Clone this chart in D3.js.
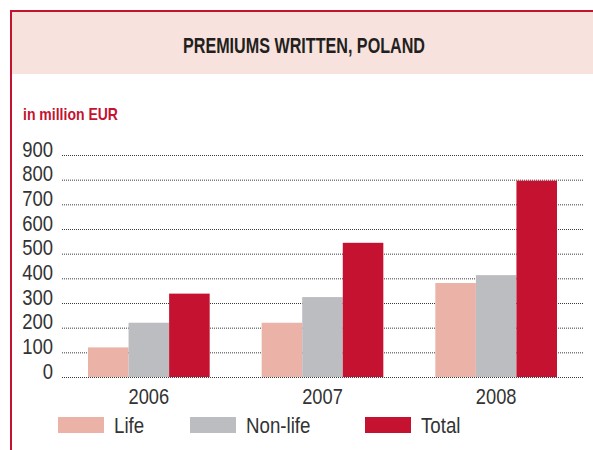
<!DOCTYPE html>
<meta charset="utf-8">
<style>
  body { margin: 0; background: #fff; }
  svg text { font-family: "Liberation Sans", Arial, sans-serif; }
</style>
<svg width="593" height="450"></svg>
<script src="https://d3js.org/d3.v7.min.js"></script>
<script>

var years = ["2006", "2007", "2008"],
    series = ["Life", "Non-life", "Total"],
    life = [120, 220, 381],
    nonLife = [220, 324, 413],
    total = [338, 544, 796],
    yTicks = [0, 100, 200, 300, 400, 500, 600, 700, 800, 900];

var colors = ["#ebb3a8", "#bcbdc1", "#c41230"];
var values = [life, nonLife, total];
var legendX = [58, 190, 365];

var svg = d3.select("svg");

// squeeze text horizontally to mimic the condensed face
function condense(sel, f) {
  sel.each(function() {
    var len = this.getComputedTextLength();
    d3.select(this).attr("textLength", len * f).attr("lengthAdjust", "spacingAndGlyphs");
  });
}

// frame + header band
svg.append("rect")
    .attr("x", 12).attr("y", 12).attr("width", 600).attr("height", 62)
    .attr("fill", "#f8e2dd");
svg.append("path")
    .attr("d", "M11,460V11H600")
    .attr("fill", "none")
    .attr("stroke", "#c41230")
    .attr("stroke-width", 2);

svg.append("text")
    .attr("x", 304).attr("y", 53)
    .attr("text-anchor", "middle")
    .attr("font-size", 22)
    .attr("font-weight", "bold")
    .attr("fill", "#231f20")
    .attr("textLength", 242)
    .attr("lengthAdjust", "spacingAndGlyphs")
    .text("PREMIUMS WRITTEN, POLAND");

svg.append("text")
    .attr("x", 23).attr("y", 120)
    .attr("font-size", 17)
    .attr("font-weight", "bold")
    .attr("fill", "#c41230")
    .attr("textLength", 95)
    .attr("lengthAdjust", "spacingAndGlyphs")
    .text("in million EUR");

var x0 = d3.scaleBand().domain(years).range([62, 583]);
var x1 = d3.scaleBand().domain(series).range([26, x0.bandwidth() - 26]);
var y = d3.scaleLinear().domain([0, 900]).range([377, 155]);

// y axis with dotted gridlines
var yAxis = svg.append("g")
    .attr("transform", "translate(62,0)")
    .call(d3.axisLeft(y).tickValues(yTicks).tickSize(-521).tickPadding(9));
yAxis.select(".domain").remove();
yAxis.selectAll("line")
    .attr("stroke", "#3a3a3a")
    .attr("stroke-dasharray", "1,1");
yAxis.selectAll("text")
    .attr("dy", "0.05em")
    .attr("font-size", 22)
    .attr("fill", "#333")
    .call(condense, 0.84);

// bars
var groups = svg.append("g").selectAll("g")
    .data(years)
    .join("g")
    .attr("transform", function(d) { return "translate(" + x0(d) + ",0)"; });

groups.selectAll("rect")
    .data(function(d, i) {
      return series.map(function(s, j) { return {key: s, value: values[j][i], c: colors[j]}; });
    })
    .join("rect")
    .attr("x", function(d) { return x1(d.key); })
    .attr("y", function(d) { return y(d.value); })
    .attr("width", x1.bandwidth())
    .attr("height", function(d) { return y(0) - y(d.value); })
    .attr("fill", function(d) { return d.c; });

// x axis
var xAxis = svg.append("g")
    .attr("transform", "translate(0,377)")
    .call(d3.axisBottom(x0).tickSize(0));
xAxis.select(".domain").remove();
xAxis.selectAll("text")
    .attr("y", 27).attr("dy", 0)
    .attr("font-size", 22)
    .attr("fill", "#333")
    .call(condense, 0.83);

// legend
series.forEach(function(s, i) {
  svg.append("rect")
      .attr("x", legendX[i]).attr("y", 417).attr("width", 46).attr("height", 16)
      .attr("fill", colors[i]);
  svg.append("text")
      .attr("x", legendX[i] + 56).attr("y", 433)
      .attr("font-size", 22)
      .attr("fill", "#333")
      .text(s)
      .call(condense, 0.85);
});

</script>
